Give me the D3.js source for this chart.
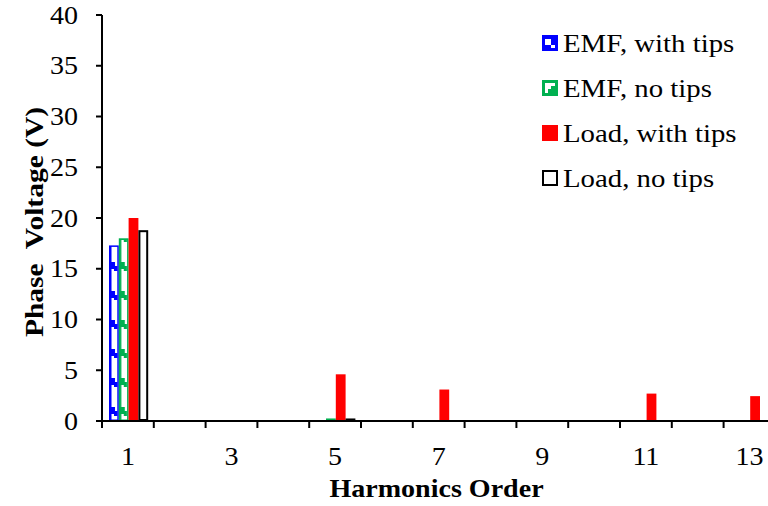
<!DOCTYPE html>
<html>
<head>
<meta charset="utf-8">
<script src="https://cdn.jsdelivr.net/npm/d3@7"></script>
<style>
  html, body { margin: 0; padding: 0; background: #fff; }
  svg { display: block; }
  text { font-family: "Liberation Serif", "Times New Roman", serif; fill: #000; }
</style>
</head>
<body>
<svg id="chart" width="768" height="506"></svg>
<script>
// Harmonic orders on the x axis
const harmonics = ["1","2","3","4","5","6","7","8","9","10","11","12","13"];
const tickLabels = ["1","3","5","7","9","11","13"];
const yTicks = [0, 5, 10, 15, 20, 25, 30, 35, 40];

// Phase voltage amplitude (V) per harmonic order
const emfWithTips  = [17.3, 0, 0, 0, 0.1,  0, 0.05, 0, 0, 0, 0.1,  0, 0.05];
const emfNoTips    = [18.0, 0, 0, 0, 0.25, 0, 0.1,  0, 0, 0, 0.1,  0, 0.05];
const loadWithTips = [20.0, 0, 0, 0, 4.6,  0, 3.1,  0, 0, 0, 2.7,  0, 2.45];
const loadNoTips   = [18.8, 0, 0, 0, 0.25, 0, 0.1,  0, 0, 0, 0.15, 0, 0.1];

const seriesNames = ["EMF, with tips", "EMF, no tips", "Load, with tips", "Load, no tips"];
const seriesValues = [emfWithTips, emfNoTips, loadWithTips, loadNoTips];

const svg = d3.select("#chart");
const plotLeft = 102, plotBottom = 421, plotTop = 15;
const step = 51.8;

const x = d3.scaleBand().domain(harmonics).range([plotLeft, plotLeft + step * harmonics.length]).padding(0);
const y = d3.scaleLinear().domain([0, 40]).range([plotBottom, plotTop]);
const inner = d3.scaleBand().domain(d3.range(4)).range([7, 7 + 39.2]).padding(0);

// Staircase fill patterns for the EMF series
const defs = svg.append("defs");
function stairPattern(id, color, offset) {
  const p = defs.append("pattern")
    .attr("id", id)
    .attr("patternUnits", "userSpaceOnUse")
    .attr("x", plotLeft + offset)
    .attr("y", 0)
    .attr("width", x.bandwidth())
    .attr("height", 29);
  p.append("rect").attr("width", x.bandwidth()).attr("height", 29).attr("fill", "#fff");
  p.append("rect").attr("x", 0).attr("y", 0).attr("width", 2.5).attr("height", 29).attr("fill", color);
  p.append("rect").attr("x", 2).attr("y", 1).attr("width", 4).attr("height", 7).attr("fill", color);
  p.append("rect").attr("x", 5).attr("y", 5).attr("width", 3.5).attr("height", 5).attr("fill", color);
  return "url(#" + id + ")";
}
const blueFill = stairPattern("stairBlue", "#0000ff", inner(0));
const greenFill = stairPattern("stairGreen", "#00b050", inner(1));

const styles = [
  { fill: blueFill, stroke: "#0000ff", sw: 1.5 },
  { fill: greenFill, stroke: "#00b050", sw: 1.5 },
  { fill: "#ff0000", stroke: "none", sw: 0 },
  { fill: "#ffffff", stroke: "#000000", sw: 2 }
];

// Bars
seriesValues.forEach((vals, si) => {
  const st = styles[si];
  svg.append("g").selectAll("rect")
    .data(vals.map((v, i) => ({ h: harmonics[i], v })).filter(d => d.v > 0))
    .join("rect")
    .attr("x", d => x(d.h) + inner(si) + st.sw / 2)
    .attr("y", d => y(d.v) + st.sw / 2)
    .attr("width", inner.bandwidth() - st.sw)
    .attr("height", d => Math.max(0, y(0) - y(d.v) - st.sw))
    .attr("fill", st.fill)
    .attr("stroke", st.stroke)
    .attr("stroke-width", st.sw);
});

// Y axis
const yAxis = svg.append("g");
yAxis.append("line").attr("x1", plotLeft).attr("x2", plotLeft)
  .attr("y1", y(40)).attr("y2", y(0)).attr("stroke", "#000").attr("stroke-width", 2);
yAxis.selectAll("line.tick").data(yTicks).join("line").attr("class", "tick")
  .attr("x1", plotLeft - 6).attr("x2", plotLeft).attr("y1", d => y(d)).attr("y2", d => y(d))
  .attr("stroke", "#000").attr("stroke-width", 2);
yAxis.selectAll("text").data(yTicks).join("text")
  .attr("transform", d => `translate(78,${y(d) + 8.5}) scale(1.1,1)`)
  .attr("text-anchor", "end").attr("font-size", 25.5)
  .text(d => d);

// X axis
const xAxis = svg.append("g");
xAxis.append("line").attr("x1", plotLeft - 6).attr("x2", 768)
  .attr("y1", y(0)).attr("y2", y(0)).attr("stroke", "#000").attr("stroke-width", 2);
xAxis.selectAll("line.tick").data(harmonics.concat(["end"])).join("line").attr("class", "tick")
  .attr("x1", d => d === "end" ? x.range()[1] : x(d))
  .attr("x2", d => d === "end" ? x.range()[1] : x(d))
  .attr("y1", y(0)).attr("y2", y(0) + 7)
  .attr("stroke", "#000").attr("stroke-width", 2);
xAxis.selectAll("text").data(tickLabels).join("text")
  .attr("transform", d => `translate(${x(d) + x.bandwidth() / 2},465) scale(1.1,1)`)
  .attr("text-anchor", "middle").attr("font-size", 25.5)
  .text(d => d);

// Axis titles
svg.append("text")
  .attr("transform", "translate(436.5,497) scale(1.1,1)")
  .attr("text-anchor", "middle").attr("font-size", 25.5).attr("font-weight", "bold")
  .text("Harmonics Order");
svg.append("text")
  .attr("transform", "translate(43,222) rotate(-90) scale(1.18,1)")
  .attr("text-anchor", "middle").attr("font-size", 25).attr("font-weight", "bold")
  .style("white-space", "pre")
  .text("Phase  Voltage (V)");

// Legend
const legend = svg.append("g");
const legendTop = 35, legendGap = 45;
seriesNames.forEach((name, i) => {
  const gy = legendTop + i * legendGap;
  const g = legend.append("g");
  if (i === 0 || i === 1) {
    const c = i === 0 ? "#0000ff" : "#00b050";
    g.append("rect").attr("x", 542).attr("y", gy).attr("width", 16).attr("height", 16).attr("fill", c);
    if (i === 0) {
      g.append("rect").attr("x", 545).attr("y", gy + 4).attr("width", 6).attr("height", 6).attr("fill", "#fff");
      g.append("rect").attr("x", 551).attr("y", gy + 10).attr("width", 4).attr("height", 3).attr("fill", "#fff");
    } else {
      g.append("rect").attr("x", 545).attr("y", gy + 3).attr("width", 10).attr("height", 3).attr("fill", "#fff");
      g.append("rect").attr("x", 545).attr("y", gy + 3).attr("width", 3).attr("height", 10).attr("fill", "#fff");
      g.append("rect").attr("x", 548).attr("y", gy + 6).attr("width", 3).attr("height", 3).attr("fill", "#fff");
    }
  } else if (i === 2) {
    g.append("rect").attr("x", 542).attr("y", gy).attr("width", 16).attr("height", 16).attr("fill", "#ff0000");
  } else {
    g.append("rect").attr("x", 543).attr("y", gy + 1).attr("width", 14).attr("height", 14)
      .attr("fill", "#fff").attr("stroke", "#000").attr("stroke-width", 2);
  }
  g.append("text")
    .attr("transform", `translate(563,${gy + 17}) scale(1.13,1)`)
    .attr("font-size", 25.5)
    .text(name);
});
</script>
</body>
</html>
